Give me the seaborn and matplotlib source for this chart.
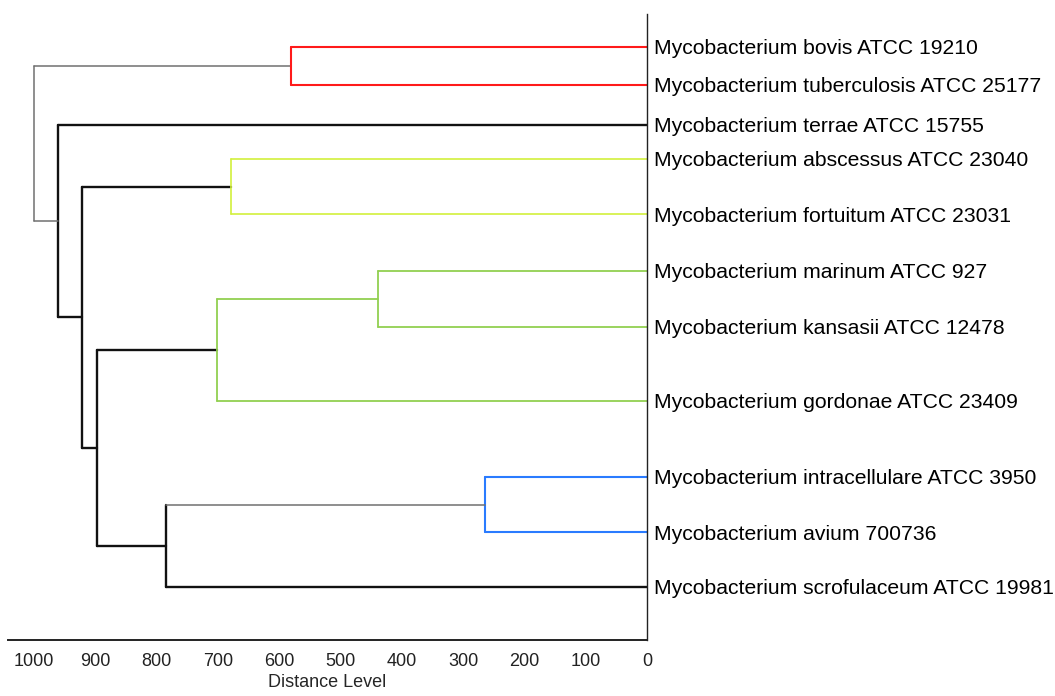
import matplotlib
matplotlib.use("Agg")
import matplotlib.pyplot as plt
import seaborn as sns
import pandas as pd

# ---- data ----
leaf_names = [
    "Mycobacterium bovis ATCC 19210",
    "Mycobacterium tuberculosis ATCC 25177",
    "Mycobacterium terrae ATCC 15755",
    "Mycobacterium abscessus ATCC 23040",
    "Mycobacterium fortuitum ATCC 23031",
    "Mycobacterium marinum ATCC 927",
    "Mycobacterium kansasii ATCC 12478",
    "Mycobacterium gordonae ATCC 23409",
    "Mycobacterium intracellulare ATCC 3950",
    "Mycobacterium avium 700736",
    "Mycobacterium scrofulaceum ATCC 19981",
]
# vertical row position of each leaf (as drawn, uneven spacing)
leaf_rows = [47, 85, 125, 159, 214, 271, 327, 401, 477, 532, 587]

# merges: (name, left child, right child, distance level)
merge_names = ["A", "B", "C", "D", "E", "F", "G", "H", "I", "J"]
merge_left = [0, 3, 5, "C", 8, "E", "D", "B", 2, "A"]
merge_right = [1, 4, 6, 7, 9, 10, "F", "G", "H", "I"]
merge_dist = [581, 679, 439, 701, 264, 785, 897, 922, 961, 1000]

# branch colour groups: (vertical, left branch, right branch)
merge_colors = [
    ("red", "red", "red"),
    ("lime", "lime", "lime"),
    ("green", "green", "green"),
    ("green", "green", "green"),
    ("blue", "blue", "blue"),
    ("black", "gray", "black"),
    ("black", "black", "black"),
    ("black", "black", "black"),
    ("black", "black", "black"),
    ("gray", "gray", "gray"),
]
x_ticks = [1000, 900, 800, 700, 600, 500, 400, 300, 200, 100, 0]

# ---- styles ----
style = {
    "red": ("#ff1a1a", 1.5),
    "lime": ("#d2f03c", 1.2),
    "green": ("#92d050", 1.3),
    "blue": ("#2a7bff", 1.5),
    "black": ("#111111", 1.7),
    "gray": ("#707070", 1.1),
}

# ---- build segments from the tree ----
pos = {i: (leaf_rows[i], 0.0) for i in range(len(leaf_names))}
rows = []
seg = 0
for name, l, r, d, cols in zip(merge_names, merge_left, merge_right, merge_dist, merge_colors):
    yl, dl = pos[l]
    yr, dr = pos[r]
    cv, cl, cr = cols
    for pts, c in (([(d, yl), (d, yr)], cv), ([(d, yl), (dl, yl)], cl), ([(d, yr), (dr, yr)], cr)):
        for (x, y) in pts:
            rows.append({"x": x, "y": y, "seg": seg, "grp": c})
        seg += 1
    pos[name] = ((yl + yr) / 2.0, d)
df = pd.DataFrame(rows)

sns.set_style("white")
plt.rcParams["font.family"] = ["Liberation Sans", "DejaVu Sans"]

fig = plt.figure(figsize=(10.55, 6.96), dpi=100)
ax = fig.add_axes([8 / 1055, 1 - 640 / 696, (647 - 8) / 1055, (640 - 14) / 696])

for grp, sub in df.groupby("grp"):
    col, lw = style[grp]
    sns.lineplot(data=sub, x="x", y="y", units="seg", estimator=None, sort=False,
                 color=col, linewidth=lw, ax=ax, legend=False)

ax.set_xlim(1042, 0)
ax.set_ylim(640, 14)

for s in ["top", "left"]:
    ax.spines[s].set_visible(False)
ax.spines["bottom"].set_color("#222222")
ax.spines["bottom"].set_linewidth(1.4)
ax.spines["right"].set_color("#222222")
ax.spines["right"].set_linewidth(1.0)

ax.set_xticks(x_ticks)
ax.set_xticklabels([str(t) for t in x_ticks], fontsize=13)
ax.tick_params(axis="x", direction="in", length=5, width=1, pad=9, colors="#222222")

ax.yaxis.tick_right()
ax.set_yticks(leaf_rows)
ax.set_yticklabels(leaf_names, fontsize=15.2)
ax.tick_params(axis="y", length=0, pad=5, labelcolor="black")

ax.set_xlabel("Distance Level", fontsize=13, labelpad=3)
ax.set_ylabel("")

fig.savefig("out.png", dpi=100)
